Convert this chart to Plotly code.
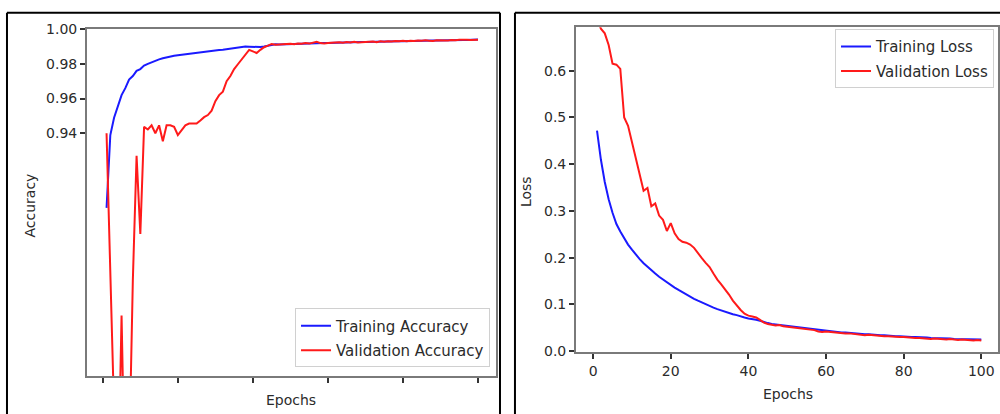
import plotly.graph_objects as go

epochs = list(range(1, 101))

train_acc = [
    0.897, 0.939, 0.949, 0.955, 0.962, 0.966, 0.971, 0.973, 0.976, 0.977,
    0.9790, 0.9800, 0.9810, 0.9820, 0.9826, 0.9832, 0.9838, 0.9843, 0.9847, 0.9850,
    0.9853, 0.9857, 0.9860, 0.9862, 0.9865, 0.9868, 0.9870, 0.9873, 0.9876, 0.9878,
    0.9880, 0.9882, 0.9885, 0.9888, 0.9892, 0.9895, 0.9898, 0.9900, 0.9899, 0.9898,
    0.9896, 0.9897, 0.9900, 0.9905, 0.9910, 0.9913, 0.9912, 0.9913, 0.9914, 0.9915,
    0.9916, 0.9916, 0.9917, 0.9918, 0.9918, 0.9919, 0.9920, 0.9920, 0.9921, 0.9921,
    0.9922, 0.9922, 0.9923, 0.9923, 0.9924, 0.9924, 0.9925, 0.9925, 0.9926, 0.9926,
    0.9927, 0.9927, 0.9928, 0.9928, 0.9929, 0.9929, 0.9930, 0.9930, 0.9931, 0.9931,
    0.9932, 0.9932, 0.9933, 0.9933, 0.9934, 0.9934, 0.9935, 0.9935, 0.9935, 0.9936,
    0.9936, 0.9937, 0.9937, 0.9937, 0.9938, 0.9938, 0.9938, 0.9939, 0.9939, 0.9940,
]

val_acc = [
    0.940, 0.862, 0.780, 0.725, 0.835, 0.725, 0.750, 0.855, 0.927, 0.882,
    0.9437, 0.9422, 0.9446, 0.9400, 0.9446, 0.9354, 0.9446, 0.9446, 0.9437, 0.9390,
    0.9418, 0.9446, 0.9456, 0.9456, 0.9456, 0.9474, 0.9493, 0.9505, 0.9530, 0.9585,
    0.9620, 0.9640, 0.9700, 0.9730, 0.9770, 0.9798, 0.9826, 0.9854, 0.9881, 0.9872,
    0.9863, 0.9881, 0.9896, 0.9905, 0.9915, 0.9910, 0.9912, 0.9915, 0.9913, 0.9916,
    0.9914, 0.9918, 0.9916, 0.9920, 0.9917, 0.9922, 0.9928, 0.9920, 0.9918, 0.9921,
    0.9923, 0.9921, 0.9925, 0.9922, 0.9926, 0.9924, 0.9927, 0.9923, 0.9925, 0.9928,
    0.9926, 0.9929, 0.9925, 0.9930, 0.9928, 0.9931, 0.9929, 0.9932, 0.9930, 0.9933,
    0.9931, 0.9934, 0.9932, 0.9935, 0.9933, 0.9936, 0.9934, 0.9932, 0.9936, 0.9935,
    0.9937, 0.9935, 0.9938, 0.9936, 0.9939, 0.9937, 0.9939, 0.9938, 0.9940, 0.9939,
]

train_loss = [
    0.472, 0.410, 0.362, 0.325, 0.296, 0.272, 0.256, 0.241, 0.228, 0.217,
    0.206, 0.197, 0.188, 0.180, 0.173, 0.166, 0.159, 0.153, 0.147, 0.141,
    0.136, 0.131, 0.126, 0.121, 0.116, 0.112, 0.108, 0.104, 0.100, 0.097,
    0.093, 0.090, 0.087, 0.084, 0.081, 0.079, 0.077, 0.074, 0.072, 0.070,
    0.069, 0.067, 0.065, 0.062, 0.060, 0.058, 0.057, 0.055, 0.054, 0.053,
    0.052, 0.051, 0.050, 0.049, 0.048, 0.047, 0.046, 0.045, 0.044, 0.043,
    0.042, 0.042, 0.041, 0.040, 0.040, 0.039, 0.038, 0.038, 0.037, 0.036,
    0.036, 0.035, 0.035, 0.034, 0.034, 0.033, 0.033, 0.032, 0.032, 0.031,
    0.031, 0.030, 0.030, 0.030, 0.029, 0.029, 0.028, 0.028, 0.028, 0.027,
    0.027, 0.027, 0.026, 0.026, 0.026, 0.026, 0.025, 0.025, 0.025, 0.025,
]

val_loss = [
    0.712, 0.690, 0.680, 0.655, 0.615, 0.613, 0.604, 0.500, 0.482, 0.448,
    0.414, 0.378, 0.343, 0.349, 0.310, 0.316, 0.290, 0.281, 0.257, 0.274,
    0.252, 0.240, 0.234, 0.232, 0.228, 0.221, 0.209, 0.199, 0.189, 0.180,
    0.166, 0.153, 0.143, 0.133, 0.121, 0.108, 0.097, 0.088, 0.080, 0.076,
    0.074, 0.072, 0.067, 0.061, 0.058, 0.056, 0.055, 0.056, 0.053, 0.052,
    0.051, 0.050, 0.049, 0.048, 0.048, 0.046, 0.045, 0.042, 0.041, 0.042,
    0.041, 0.040, 0.039, 0.039, 0.038, 0.038, 0.037, 0.036, 0.036, 0.034,
    0.035, 0.034, 0.033, 0.033, 0.032, 0.032, 0.031, 0.031, 0.030, 0.030,
    0.029, 0.029, 0.028, 0.028, 0.027, 0.027, 0.026, 0.027, 0.026, 0.026,
    0.025, 0.026, 0.025, 0.024, 0.025, 0.024, 0.024, 0.023, 0.024, 0.023,
]

acc_ticks = [0.94, 0.96, 0.98, 1.00]
acc_tick_text = ["0.94", "0.96", "0.98", "1.00"]
loss_ticks = [0.0, 0.1, 0.2, 0.3, 0.4, 0.5, 0.6]
epoch_ticks = [0, 20, 40, 60, 80, 100]

W, H = 1000, 414
FONT = "DejaVu Sans"
TXT = "#2b2b2b"
SPINE = "#7a7a7a"

def px(x):
    return x / W

def py(y):
    return 1 - y / H

fig = go.Figure()

fig.add_trace(go.Scatter(x=epochs, y=train_acc, mode="lines", name="Training Accuracy",
                         line=dict(color="#1a1aff", width=2), xaxis="x", yaxis="y",
                         legend="legend", legendgroup="a1"))
fig.add_trace(go.Scatter(x=epochs, y=val_acc, mode="lines", name="Validation Accuracy",
                         line=dict(color="#ff1a1a", width=2), xaxis="x", yaxis="y",
                         legend="legend", legendgroup="a2"))
fig.add_trace(go.Scatter(x=epochs, y=train_loss, mode="lines", name="Training Loss",
                         line=dict(color="#1a1aff", width=2), xaxis="x2", yaxis="y2",
                         legend="legend2", legendgroup="b1"))
fig.add_trace(go.Scatter(x=epochs, y=val_loss, mode="lines", name="Validation Loss",
                         line=dict(color="#ff1a1a", width=2), xaxis="x2", yaxis="y2",
                         legend="legend2", legendgroup="b2"))

axis_common = dict(showgrid=False, zeroline=False, showline=True, linecolor=SPINE,
                   linewidth=1.5, mirror=True, ticks="outside", ticklen=5, tickwidth=1.5,
                   tickcolor="#333", tickfont=dict(family=FONT, size=14, color=TXT))

legend_common = dict(bgcolor="rgba(255,255,255,0.9)", bordercolor="#d0d0d0", borderwidth=1,
                     font=dict(family=FONT, size=15, color=TXT), tracegroupgap=2,
                     itemwidth=30)

fig.update_layout(
    width=W, height=H, margin=dict(l=0, r=0, t=0, b=0),
    paper_bgcolor="white", plot_bgcolor="white",
    font=dict(family=FONT, size=14, color=TXT),
    xaxis=dict(domain=[px(87), px(497)], range=[-4.26, 104.8], tickvals=epoch_ticks,
               showticklabels=False, anchor="y", **axis_common),
    yaxis=dict(domain=[py(382), py(22)], range=[0.80, 1.00], tickvals=acc_ticks,
               ticktext=acc_tick_text, anchor="x", **axis_common),
    xaxis2=dict(domain=[px(577), 1.0], range=[-4.45, 104.3], tickvals=epoch_ticks,
                anchor="y2", **axis_common),
    yaxis2=dict(domain=[py(357), py(20)], range=[-0.002, 0.693], tickvals=loss_ticks,
                tickformat=".1f", anchor="x2", **axis_common),
    legend=dict(x=px(491), y=py(373), xanchor="right", yanchor="bottom", **legend_common),
    legend2=dict(x=px(996), y=py(22), xanchor="right", yanchor="top", **legend_common),
    showlegend=True,
)

annotations = [
    dict(text="Accuracy", x=px(30), y=py(205), textangle=-90),
    dict(text="Epochs", x=px(292), y=py(407)),
    dict(text="Loss", x=px(527), y=py(190), textangle=-90),
    dict(text="Epochs", x=px(790), y=py(401)),
]
for a in annotations:
    fig.add_annotation(xref="paper", yref="paper", showarrow=False,
                       xanchor="center", yanchor="middle",
                       font=dict(family=FONT, size=14, color=TXT), **a)

# outer panel frames
frame = dict(color="black", width=2)
fig.add_shape(type="line", xref="paper", yref="paper", x0=px(7), x1=px(7), y0=-0.02, y1=py(5), line=frame)
fig.add_shape(type="line", xref="paper", yref="paper", x0=px(7), x1=px(501), y0=py(5), y1=py(5), line=frame)
fig.add_shape(type="line", xref="paper", yref="paper", x0=px(501), x1=px(501), y0=-0.02, y1=py(5), line=frame)
fig.add_shape(type="line", xref="paper", yref="paper", x0=px(516), x1=px(516), y0=-0.02, y1=py(5), line=frame)
fig.add_shape(type="line", xref="paper", yref="paper", x0=px(516), x1=1.02, y0=py(5), y1=py(5), line=frame)

fig.write_html("out.html")
